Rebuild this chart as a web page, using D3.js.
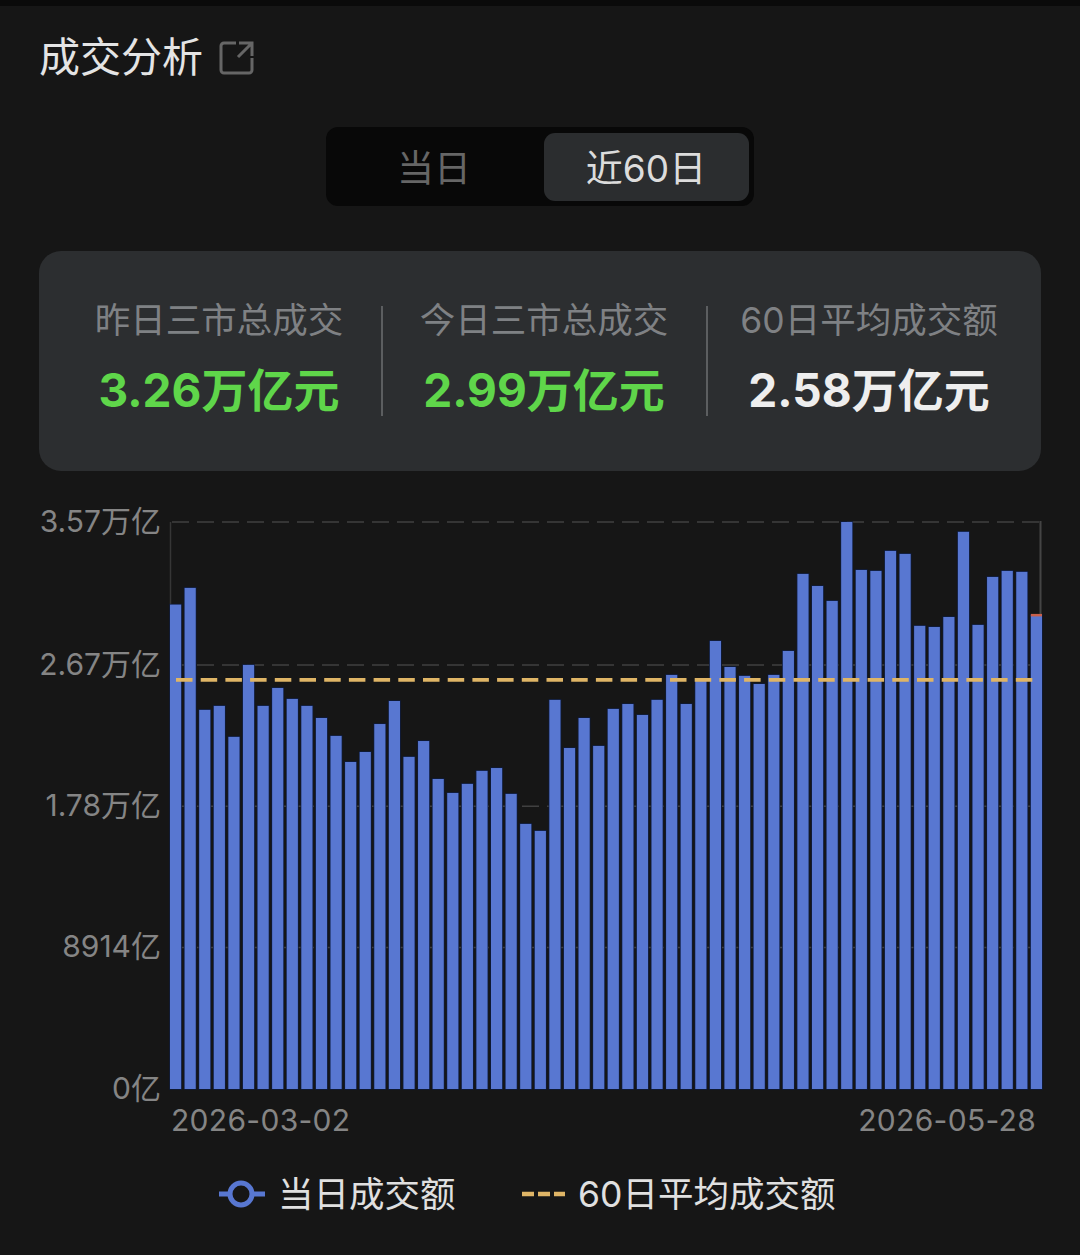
<!DOCTYPE html>
<html><head><meta charset="utf-8">
<script src="https://cdn.jsdelivr.net/npm/d3@7/dist/d3.min.js"></script>
<style>html,body{margin:0;padding:0;background:#161616}svg{display:block}text{font-family:Inter,"Noto Sans CJK SC","Noto Sans",sans-serif}</style>
</head><body><svg id="c" width="1080" height="1255"></svg>
<script>
const dailyTurnover=[3.05,3.155,2.387,2.412,2.217,2.67,2.412,2.525,2.456,2.412,2.336,2.223,2.059,2.122,2.298,2.443,2.091,2.191,1.952,1.864,1.921,2.003,2.021,1.858,1.669,1.625,2.45,2.147,2.336,2.16,2.393,2.424,2.355,2.45,2.607,2.424,2.569,2.821,2.657,2.601,2.55,2.607,2.758,3.243,3.167,3.073,3.57,3.268,3.262,3.388,3.369,2.916,2.909,2.972,3.508,2.922,3.224,3.262,3.256,2.985];
const average60=2.576;
const yTicks=[0,0.8914,1.78,2.67,3.57];
const yTickLabels=["0亿","8914亿","1.78万亿","2.67万亿","3.57万亿"];
const xLabels=["2026-03-02","2026-05-28"];
const statTitles=["昨日三市总成交","今日三市总成交","60日平均成交额"];
const statValues=["3.26万亿元","2.99万亿元","2.58万亿元"];
const statColors=["#5fd64a","#5fd64a","#eeeeee"];
const legendLabels=["当日成交额","60日平均成交额"];

const svg=d3.select("#c");
const T=(x,y,s,size,fill,anchor="start",weight=400)=>svg.append("text").attr("x",x).attr("y",y).attr("font-size",size).attr("fill",fill).attr("text-anchor",anchor).attr("font-weight",weight).text(s);
svg.append("rect").attr("width",1080).attr("height",1255).attr("fill","#161616");
svg.append("rect").attr("width",1080).attr("height",6).attr("fill","#0a0a0a");

T(39,72,"成交分析",41,"#e4e4e4","start",400);
svg.append("path").attr("d","M236 43H224a3 3 0 0 0-3 3V70a3 3 0 0 0 3 3H249a3 3 0 0 0 3-3V58M239 43H252V56M252 43L238 57").attr("fill","none").attr("stroke","#666").attr("stroke-width",3);

svg.append("rect").attr("x",326).attr("y",127).attr("width",428).attr("height",79).attr("rx",12).attr("fill","#080808");
svg.append("rect").attr("x",544).attr("y",133).attr("width",205).attr("height",68).attr("rx",11).attr("fill","#2b2d2f");
T(434,182,"当日",37,"#666666","middle");
T(646,182,"近60日",37,"#dcdcdc","middle");

svg.append("rect").attr("x",39).attr("y",251).attr("width",1002).attr("height",220).attr("rx",22).attr("fill","#2c2e30");
[219,544,869].forEach((cx,i)=>{
  T(cx,333,statTitles[i],35.5,"#7f8184","middle");
  T(cx,407,statValues[i],46,statColors[i],"middle",700);
});
[382,707].forEach(x=>svg.append("line").attr("x1",x).attr("x2",x).attr("y1",306).attr("y2",416).attr("stroke","#5c5e60").attr("stroke-width",2));

const x=d3.scaleBand().domain(d3.range(dailyTurnover.length)).range([170,1042]).paddingInner(0.235).paddingOuter(0);
const y=d3.scaleLinear().domain([0,3.57]).range([1089,522]);

yTicks.slice(1).forEach(v=>svg.append("line").attr("x1",172).attr("x2",1041).attr("y1",y(v)).attr("y2",y(v)).attr("stroke","#404040").attr("stroke-width",1.5).attr("stroke-dasharray","17 8"));
svg.append("line").attr("x1",170.5).attr("x2",170.5).attr("y1",522).attr("y2",1089).attr("stroke","#363636").attr("stroke-width",1.5);
svg.append("line").attr("x1",1040.5).attr("x2",1040.5).attr("y1",521).attr("y2",620).attr("stroke","#444").attr("stroke-width",2);

svg.append("g").selectAll("rect").data(dailyTurnover).join("rect")
 .attr("x",(d,i)=>x(i)).attr("width",x.bandwidth()).attr("y",d=>y(d)).attr("height",d=>y(0)-y(d)).attr("fill","#5877d1").attr("stroke","#0e1b3c").attr("stroke-width",1.5).attr("paint-order","stroke");
svg.append("rect").attr("x",x(59)).attr("width",x.bandwidth()).attr("y",y(dailyTurnover[59])-1).attr("height",2.5).attr("fill","#c9604a");

svg.append("line").attr("x1",176).attr("x2",1036).attr("y1",y(average60)).attr("y2",y(average60)).attr("stroke","#dfb566").attr("stroke-width",3.8).attr("stroke-dasharray","16.5 8.2");

yTicks.forEach((v,i)=>T(161,y(v)+10,yTickLabels[i],30,"#858585","end"));
T(171,1131,xLabels[0],30,"#858585").attr("letter-spacing",0.3);
T(1036,1131,xLabels[1],30,"#858585","end").attr("letter-spacing",0.3);

svg.append("line").attr("x1",219).attr("x2",265).attr("y1",1194).attr("y2",1194).attr("stroke","#5877d1").attr("stroke-width",5);
svg.append("circle").attr("cx",241).attr("cy",1194).attr("r",11).attr("fill","#161616").attr("stroke","#5877d1").attr("stroke-width",5);
T(278,1207,legendLabels[0],35.5,"#e0e0e0");
svg.append("line").attr("x1",522).attr("x2",565).attr("y1",1194).attr("y2",1194).attr("stroke","#dfb566").attr("stroke-width",4.5).attr("stroke-dasharray","12 4");
T(578,1207,legendLabels[1],35.5,"#e0e0e0");
</script></body></html>
